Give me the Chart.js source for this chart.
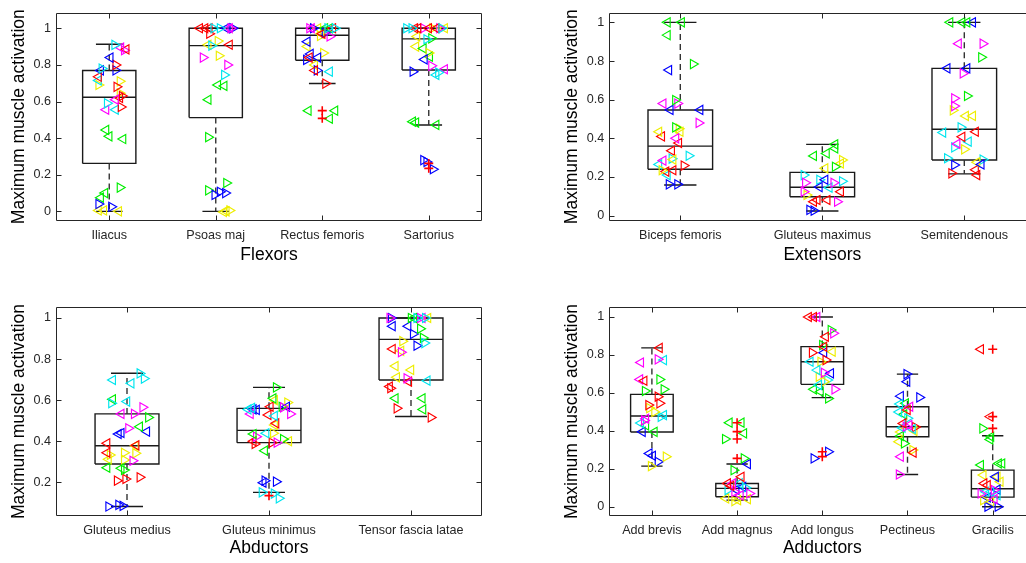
<!DOCTYPE html>
<html>
<head>
<meta charset="utf-8">
<script src="https://cdn.jsdelivr.net/npm/chart.js@4.4.1/dist/chart.umd.min.js"></script>
<style>
html,body{margin:0;padding:0;background:#fff;overflow:hidden;width:1026px;height:563px;}
canvas{position:absolute;}
</style>
</head>
<body>
<canvas id="p1"></canvas>
<canvas id="p2"></canvas>
<canvas id="p3"></canvas>
<canvas id="p4"></canvas>
<script>
// ---------------- DATA ----------------
const yAxisTitle = 'Maximum muscle activation';
const yTicksFull = [0, 0.2, 0.4, 0.6, 0.8, 1];
const yTickLabelsFull = ['0', '0.2', '0.4', '0.6', '0.8', '1'];
const yTicksAbd = [0.2, 0.4, 0.6, 0.8, 1];
const yTickLabelsAbd = ['0.2', '0.4', '0.6', '0.8', '1'];

// Flexors
const flexorCategories = ['Iliacus', 'Psoas maj', 'Rectus femoris', 'Sartorius'];
const flexorQ1 = [0.262, 0.512, 0.825, 0.772];
const flexorMedian = [0.623, 0.905, 0.962, 0.942];
const flexorQ3 = [0.769, 1.0, 1.0, 1.0];
const flexorLow = [0, 0, 0.698, 0.472];
const flexorHigh = [0.913, 1.0, 1.0, 1.0];
const flexorOutliers = [[], [], [0.55, 0.508], [0.262, 0.235]];
// points: [jitter, value, colour+direction]
const iliacusPts = [[0.05,0.909,'c>'],[0.11,0.894,'m<'],[0.16,0.885,'r<'],[0.14,0.88,'m>'],[0.01,0.84,'b<'],[0.06,0.80,'r>'],[-0.07,0.78,'c>'],[-0.08,0.77,'b<'],[0.06,0.77,'b>'],[-0.10,0.735,'r<'],[-0.10,0.715,'c<'],[-0.10,0.69,'y>'],[0.10,0.71,'y>'],[0.07,0.68,'r>'],[0.10,0.645,'y>'],[0.12,0.63,'r>'],[0.06,0.61,'m<'],[0.10,0.62,'r<'],[-0.02,0.59,'c>'],[0.11,0.57,'r>'],[-0.03,0.555,'m<'],[0.06,0.555,'c<'],[-0.03,0.445,'g<'],[0.00,0.41,'g<'],[0.13,0.395,'g<'],[0.10,0.13,'g>'],[-0.04,0.10,'g<'],[-0.08,0.075,'g<'],[-0.10,0.04,'b>'],[0.02,0.025,'b>'],[-0.10,0.005,'y<'],[-0.05,0.005,'y<'],[0.09,0.0,'y<']];
const psoasPts = [[-0.15,1,'r<'],[-0.10,1,'r<'],[-0.06,1,'r<'],[-0.02,1,'c>'],[0.04,1,'c>'],[0.10,1,'b<'],[0.13,1,'m<'],[0.16,1,'b>'],[0.14,1,'m>'],[-0.06,0.97,'r>'],[-0.07,0.91,'y<'],[-0.04,0.905,'c>'],[0.02,0.93,'y>'],[0.13,0.91,'r<'],[-0.12,0.84,'m>'],[0.03,0.85,'y>'],[0.11,0.80,'m>'],[0.08,0.745,'c>'],[0.02,0.69,'g<'],[0.08,0.685,'g<'],[-0.07,0.61,'g<'],[-0.07,0.405,'g>'],[0.10,0.155,'g>'],[-0.07,0.115,'g>'],[0.04,0.107,'b>'],[0.09,0.10,'b>'],[-0.01,0.09,'b>'],[0.10,0.0,'y<'],[0.13,0.005,'y>'],[0.075,-0.003,'y<']];
const rectusPts = [[-0.12,1,'m>'],[-0.085,1,'b>'],[-0.04,1,'y<'],[0.025,1,'g<'],[0.05,1,'c>'],[0.07,1,'g<'],[0.10,1,'r<'],[0.12,1,'c>'],[-0.10,1,'m<'],[-0.01,0.97,'y<'],[0.00,0.97,'r<'],[0.025,0.975,'b>'],[0.07,0.955,'m>'],[-0.02,0.958,'y>'],[-0.14,0.927,'b<'],[-0.14,0.90,'y<'],[-0.11,0.86,'b<'],[-0.12,0.84,'r<'],[0.01,0.865,'y>'],[-0.04,0.84,'b<'],[-0.07,0.80,'y<'],[-0.15,0.827,'b>'],[-0.07,0.77,'r<'],[-0.05,0.77,'b>'],[0.07,0.763,'c<'],[0.03,0.698,'r>'],[-0.13,0.55,'g<'],[0.12,0.55,'g<'],[0.07,0.506,'g<']];
const sartoriusPts = [[-0.21,1,'c>'],[-0.16,1,'c>'],[-0.13,1,'r<'],[-0.10,1,'r<'],[-0.05,1,'m>'],[0.00,1,'r<'],[0.035,1,'y>'],[0.07,1,'r<'],[0.10,1,'m>'],[0.12,1,'c>'],[0.15,1,'y<'],[-0.11,0.955,'y<'],[-0.02,0.94,'c>'],[0.025,0.945,'g>'],[-0.12,0.90,'y<'],[-0.05,0.89,'g<'],[0.00,0.865,'y>'],[0.01,0.845,'g<'],[-0.04,0.83,'b<'],[0.025,0.795,'m>'],[-0.15,0.763,'b>'],[0.15,0.776,'m<'],[0.09,0.758,'c>'],[0.07,0.745,'c<'],[-0.15,0.49,'g<'],[-0.12,0.485,'g<'],[0.07,0.472,'g<'],[-0.05,0.28,'b>'],[-0.02,0.27,'b>'],[0.04,0.23,'b>']];

// Extensors
const extensorCategories = ['Biceps femoris', 'Gluteus maximus', 'Semitendenous'];
const extensorQ1 = [0.24, 0.098, 0.288];
const extensorMedian = [0.36, 0.147, 0.447];
const extensorQ3 = [0.547, 0.224, 0.762];
const extensorLow = [0.159, 0.024, 0.216];
const extensorHigh = [1.0, 0.369, 1.0];
const extensorOutliers = [[], [], []];
const bicepsPts = [[-0.09,1,'g<'],[0.01,1,'g<'],[-0.09,0.934,'g<'],[0.09,0.784,'g>'],[-0.08,0.753,'b<'],[-0.035,0.598,'g>'],[-0.12,0.58,'m<'],[-0.02,0.58,'m>'],[-0.07,0.547,'b<'],[0.14,0.547,'b<'],[0.13,0.48,'m>'],[-0.15,0.434,'y<'],[-0.035,0.457,'g>'],[-0.01,0.45,'y>'],[0.0,0.434,'y<'],[-0.13,0.41,'r<'],[-0.03,0.40,'m<'],[-0.01,0.376,'r<'],[-0.06,0.336,'r<'],[0.06,0.31,'c>'],[-0.06,0.295,'c>'],[-0.12,0.285,'m<'],[-0.05,0.29,'y<'],[-0.15,0.265,'c<'],[0.025,0.259,'r>'],[-0.13,0.235,'y>'],[-0.10,0.228,'r<'],[-0.05,0.235,'r<'],[-0.09,0.21,'c<'],[-0.08,0.162,'b>'],[-0.02,0.162,'b>']];
const gluteusMaxPts = [[0.09,0.369,'g<'],[0.09,0.348,'g<'],[0.03,0.322,'g<'],[-0.06,0.309,'g<'],[0.14,0.288,'y>'],[0.02,0.245,'y<'],[0.09,0.253,'g>'],[0.13,0.27,'y<'],[-0.13,0.21,'c>'],[-0.02,0.186,'c>'],[0.14,0.178,'c>'],[0.02,0.186,'b<'],[0.08,0.17,'m>'],[-0.12,0.17,'m>'],[0.05,0.145,'c<'],[-0.02,0.148,'b<'],[-0.13,0.124,'m>'],[-0.11,0.107,'y>'],[0.13,0.124,'r<'],[-0.035,0.081,'r<'],[0.035,0.081,'r<'],[0.105,0.072,'m>'],[-0.06,0.072,'r<'],[-0.09,0.03,'b>'],[-0.06,0.026,'b>']];
const semitendPts = [[-0.10,1,'g<'],[-0.015,1,'g<'],[0.02,1,'g<'],[0.06,1,'b<'],[-0.04,0.89,'m<'],[0.13,0.89,'m>'],[0.12,0.819,'g>'],[-0.12,0.762,'b<'],[0.02,0.762,'b<'],[-0.01,0.736,'m>'],[0.02,0.619,'g>'],[-0.07,0.607,'m>'],[-0.07,0.567,'m>'],[-0.08,0.545,'y>'],[0.01,0.516,'y<'],[0.06,0.516,'y<'],[-0.025,0.457,'c>'],[-0.15,0.43,'c<'],[0.08,0.434,'r<'],[-0.015,0.408,'r<'],[0.03,0.383,'c<'],[-0.05,0.371,'m<'],[-0.07,0.353,'c>'],[0.00,0.343,'y>'],[-0.12,0.297,'c>'],[0.09,0.276,'y<'],[-0.07,0.262,'b>'],[0.13,0.29,'c>'],[0.12,0.265,'b<'],[-0.09,0.219,'r>'],[0.09,0.21,'r<'],[0.08,0.237,'r<']];

// Abductors
const abductorCategories = ['Gluteus medius', 'Gluteus minimus', 'Tensor fascia latae'];
const abductorQ1 = [0.289, 0.393, 0.698];
const abductorMedian = [0.378, 0.453, 0.896];
const abductorQ3 = [0.533, 0.56, 1.0];
const abductorLow = [0.082, 0.151, 0.52];
const abductorHigh = [0.731, 0.662, 1.0];
const abductorOutliers = [[], [0.135], []];
const gluteusMedPts = [[0.09,0.73,'c>'],[0.03,0.682,'c<'],[0.12,0.705,'c>'],[-0.10,0.698,'c<'],[-0.10,0.604,'g<'],[0.00,0.593,'c<'],[-0.11,0.585,'c>'],[0.11,0.565,'m>'],[-0.04,0.533,'m<'],[0.05,0.533,'m>'],[0.15,0.516,'g>'],[0.01,0.463,'m>'],[0.09,0.471,'g<'],[0.14,0.447,'b<'],[-0.06,0.435,'b<'],[-0.04,0.44,'b<'],[-0.14,0.39,'r<'],[-0.14,0.344,'r<'],[0.06,0.378,'y<'],[0.065,0.38,'r<'],[-0.12,0.333,'y>'],[-0.02,0.344,'y>'],[0.06,0.341,'y>'],[-0.13,0.312,'y<'],[-0.02,0.309,'y>'],[0.04,0.305,'m>'],[-0.14,0.271,'g<'],[-0.04,0.268,'g<'],[-0.02,0.26,'g>'],[-0.07,0.208,'r>'],[-0.01,0.216,'r>'],[0.09,0.224,'r>'],[-0.13,0.082,'b>'],[-0.06,0.09,'b>'],[-0.03,0.085,'b>']];
const gluteusMinPts = [[0.05,0.662,'g>'],[0.03,0.609,'g<'],[0.04,0.60,'y<'],[0.13,0.588,'y>'],[0.10,0.565,'m>'],[0.125,0.568,'b<'],[0.09,0.568,'g>'],[0.01,0.568,'r<'],[0.04,0.523,'c<'],[0.15,0.533,'m>'],[-0.005,0.528,'r<'],[-0.11,0.555,'b<'],[-0.12,0.562,'c<'],[-0.13,0.533,'m<'],[-0.146,0.555,'c<'],[-0.087,0.553,'b<'],[0.04,0.479,'y<'],[0.05,0.487,'r<'],[-0.02,0.439,'c<'],[-0.09,0.422,'m>'],[-0.11,0.435,'g<'],[0.03,0.439,'y>'],[0.055,0.393,'m>'],[0.02,0.393,'r>'],[-0.10,0.387,'r>'],[0.10,0.41,'g>'],[0.14,0.40,'y<'],[-0.03,0.354,'g<'],[-0.11,0.40,'r<'],[-0.03,0.208,'b>'],[0.05,0.203,'b>'],[-0.04,0.198,'b<'],[-0.05,0.151,'c>'],[0.07,0.122,'c>'],[0.035,0.145,'c>']];
const tensorPts = [[-0.15,1,'m>'],[-0.14,1,'b>'],[0.00,1,'g>'],[0.04,1,'c>'],[0.065,1,'m>'],[0.10,1,'c>'],[0.12,1,'y<'],[0.02,1,'g<'],[0.08,1,'m<'],[-0.13,0.96,'b<'],[-0.02,0.96,'b<'],[0.015,0.922,'b>'],[0.065,0.948,'g>'],[0.085,0.903,'g>'],[0.095,0.878,'c>'],[-0.06,0.887,'y>'],[0.04,0.865,'b>'],[-0.13,0.849,'r<'],[-0.07,0.833,'m>'],[-0.07,0.84,'y<'],[-0.11,0.766,'y<'],[0.00,0.747,'y<'],[-0.10,0.711,'y<'],[-0.03,0.706,'m>'],[-0.015,0.69,'r<'],[0.115,0.695,'c<'],[-0.15,0.666,'r<'],[-0.145,0.658,'r>'],[-0.11,0.609,'g<'],[0.08,0.609,'g<'],[-0.10,0.56,'r>'],[0.085,0.555,'g<'],[0.14,0.516,'r>']];

// Adductors
const adductorCategories = ['Add brevis', 'Add magnus', 'Add longus', 'Pectineus', 'Gracilis'];
const adductorQ1 = [0.394, 0.053, 0.645, 0.369, 0.051];
const adductorMedian = [0.478, 0.097, 0.764, 0.422, 0.095];
const adductorQ3 = [0.592, 0.123, 0.844, 0.527, 0.193];
const adductorLow = [0.214, 0.035, 0.575, 0.17, 0];
const adductorHigh = [0.837, 0.225, 1.0, 0.699, 0.374];
const adductorOutliers = [[], [0.443, 0.396, 0.357, 0.255], [0.29, 0.264], [], [0.83, 0.475, 0.413]];
const addBrevisPts = [[0.09,0.837,'r<'],[-0.13,0.76,'m<'],[0.07,0.777,'m>'],[0.14,0.773,'c<'],[-0.14,0.671,'m<'],[-0.09,0.664,'r<'],[0.09,0.671,'g>'],[-0.08,0.61,'g>'],[0.14,0.619,'g>'],[0.07,0.58,'r>'],[-0.04,0.536,'r>'],[0.09,0.545,'r>'],[-0.03,0.52,'y>'],[0.03,0.50,'y>'],[0.14,0.483,'c<'],[0.105,0.474,'c>'],[-0.07,0.464,'m<'],[-0.13,0.441,'c<'],[-0.07,0.429,'g<'],[-0.09,0.455,'m>'],[0.03,0.395,'g<'],[-0.11,0.395,'b<'],[-0.03,0.281,'b<'],[0.01,0.269,'b<'],[0.07,0.237,'b>'],[-0.01,0.214,'y>'],[0.165,0.264,'y>']];
const addMagnusPts = [[-0.09,0.443,'g<'],[0.05,0.443,'g<'],[0.08,0.387,'g<'],[-0.14,0.357,'g>'],[0.08,0.255,'g>'],[0.125,0.225,'b<'],[-0.04,0.193,'g>'],[0.05,0.158,'r<'],[-0.11,0.123,'r<'],[-0.05,0.123,'m<'],[0.03,0.123,'c<'],[0.07,0.105,'b<'],[-0.11,0.088,'c>'],[-0.03,0.079,'m>'],[0.145,0.07,'m>'],[-0.01,0.09,'b<'],[-0.07,0.11,'r<'],[0.10,0.10,'c>'],[-0.13,0.044,'y<'],[0.01,0.035,'y<'],[0.125,0.04,'y<'],[-0.03,0.03,'y>'],[0.04,0.06,'m<']];
const addLongusPts = [[-0.16,1,'r<'],[-0.10,1,'r<'],[-0.06,1,'m<'],[0.10,0.931,'g>'],[0.13,0.914,'m>'],[0.04,0.896,'r<'],[0.0,0.852,'g>'],[0.02,0.843,'r<'],[-0.12,0.812,'r>'],[0.12,0.817,'y<'],[0.02,0.812,'b<'],[-0.14,0.764,'c<'],[-0.02,0.764,'y>'],[0.04,0.773,'r>'],[-0.06,0.72,'c<'],[0.10,0.703,'b<'],[0.02,0.706,'m>'],[-0.04,0.685,'y>'],[0.06,0.668,'c>'],[0.02,0.659,'y>'],[-0.04,0.642,'c<'],[-0.10,0.619,'g<'],[0.145,0.619,'m>'],[-0.02,0.606,'g<'],[0.07,0.571,'g>'],[-0.10,0.255,'b>'],[0.07,0.29,'b>']];
const pectineusPts = [[-0.01,0.699,'b>'],[-0.005,0.659,'b<'],[-0.08,0.583,'b<'],[0.14,0.576,'b>'],[-0.09,0.541,'c<'],[-0.02,0.545,'g<'],[0.03,0.527,'m<'],[0.00,0.51,'r<'],[-0.10,0.499,'c<'],[-0.04,0.487,'g<'],[0.00,0.466,'c>'],[-0.05,0.439,'r<'],[-0.02,0.422,'m>'],[0.09,0.42,'r>'],[0.02,0.43,'m<'],[-0.06,0.417,'c<'],[0.06,0.41,'c<'],[-0.08,0.394,'y<'],[-0.08,0.373,'g<'],[-0.10,0.343,'y<'],[-0.04,0.334,'g>'],[0.06,0.299,'y>'],[0.07,0.285,'r<'],[-0.08,0.264,'m<'],[-0.10,0.17,'m>'],[0.08,0.40,'y<']];
const gracilisPts = [[-0.14,0.83,'r<'],[-0.03,0.475,'r<'],[-0.12,0.413,'g>'],[-0.02,0.369,'g<'],[-0.03,0.355,'g<'],[-0.14,0.22,'g<'],[0.07,0.228,'g<'],[0.11,0.228,'g<'],[-0.11,0.167,'y<'],[0.055,0.158,'y<'],[0.09,0.132,'y<'],[0.035,0.158,'b<'],[-0.10,0.123,'r<'],[-0.06,0.114,'r<'],[0.015,0.088,'m>'],[-0.02,0.079,'c<'],[0.055,0.09,'b<'],[-0.08,0.079,'c<'],[-0.14,0.07,'m>'],[0.055,0.061,'c<'],[-0.06,0.049,'b<'],[-0.11,0.035,'y>'],[-0.02,0.026,'y<'],[-0.06,0.0,'b>'],[0.06,0.0,'b>'],[0.02,0.04,'m<']];

// ---------------- STYLE / LAYOUT ----------------
const COLORS = {r:'#ff0000', g:'#00ee00', b:'#0000ff', c:'#00e5ee', m:'#ff00ff', y:'#eeee00'};
const FONT = "'Liberation Sans', Arial, Helvetica, sans-serif";
const TEXT = '#262626';

const panels = [
  {id:'p1', title:'Flexors', cats:flexorCategories, q1:flexorQ1, med:flexorMedian, q3:flexorQ3, lo:flexorLow, hi:flexorHigh, out:flexorOutliers,
   pts:[iliacusPts, psoasPts, rectusPts, sartoriusPts], yTicks:yTicksFull, yLabels:yTickLabelsFull, yMin:-0.051, yMax:1.085, boxW:0.5,
   canvas:{left:0, top:0, width:505, height:270}, area:{left:56, top:12.7, right:482, bottom:220.7}},
  {id:'p2', title:'Extensors', cats:extensorCategories, q1:extensorQ1, med:extensorMedian, q3:extensorQ3, lo:extensorLow, hi:extensorHigh, out:extensorOutliers,
   pts:[bicepsPts, gluteusMaxPts, semitendPts], yTicks:yTicksFull, yLabels:yTickLabelsFull, yMin:-0.026, yMax:1.05, boxW:0.455,
   canvas:{left:553, top:0, width:505, height:270}, area:{left:609.3, top:12.7, right:1035.3, bottom:220.7}},
  {id:'p3', title:'Abductors', cats:abductorCategories, q1:abductorQ1, med:abductorMedian, q3:abductorQ3, lo:abductorLow, hi:abductorHigh, out:abductorOutliers,
   pts:[gluteusMedPts, gluteusMinPts, tensorPts], yTicks:yTicksAbd, yLabels:yTickLabelsAbd, yMin:0.0374, yMax:1.052, boxW:0.45,
   canvas:{left:0, top:285, width:505, height:278}, area:{left:56, top:307.3, right:482, bottom:515.7}},
  {id:'p4', title:'Adductors', cats:adductorCategories, q1:adductorQ1, med:adductorMedian, q3:adductorQ3, lo:adductorLow, hi:adductorHigh, out:adductorOutliers,
   pts:[addBrevisPts, addMagnusPts, addLongusPts, pectineusPts, gracilisPts], yTicks:yTicksFull, yLabels:yTickLabelsFull, yMin:-0.047, yMax:1.051, boxW:0.5,
   canvas:{left:553, top:285, width:505, height:278}, area:{left:609.3, top:307.3, right:1035.3, bottom:515.7}}
];

const framePlugin = {
  id: 'frame',
  afterDatasetsDraw(chart) {
    const {ctx, chartArea: a, scales: {x, y}} = chart;
    const L = Math.round(a.left) + 0.5, R = Math.round(a.right) - 0.5;
    const T = Math.round(a.top) + 0.5, B = Math.round(a.bottom) - 0.5;
    ctx.save();
    ctx.strokeStyle = '#262626';
    ctx.lineWidth = 1;
    ctx.beginPath();
    ctx.rect(L, T, R - L, B - T);
    x.ticks.forEach(t => {
      const px = Math.round(x.getPixelForValue(t.value)) + 0.5;
      ctx.moveTo(px, B); ctx.lineTo(px, B - 5);
      ctx.moveTo(px, T); ctx.lineTo(px, T + 5);
    });
    y.ticks.forEach(t => {
      const py = Math.round(y.getPixelForValue(t.value)) + 0.5;
      ctx.moveTo(L, py); ctx.lineTo(L + 5, py);
      ctx.moveTo(R, py); ctx.lineTo(R - 5, py);
    });
    ctx.stroke();
    ctx.restore();
  }
};

function makePanel(p) {
  const cv = document.getElementById(p.id);
  cv.width = p.canvas.width; cv.height = p.canvas.height;
  cv.style.left = p.canvas.left + 'px'; cv.style.top = p.canvas.top + 'px';
  cv.style.width = p.canvas.width + 'px'; cv.style.height = p.canvas.height + 'px';

  const hb = p.boxW / 2, hc = p.boxW / 4;
  const box = [], med = [], whisk = [], cap = [], outl = [];
  p.cats.forEach((c, i) => {
    const x = i + 1;
    box.push({x:x-hb,y:p.q1[i]},{x:x+hb,y:p.q1[i]},{x:x+hb,y:p.q3[i]},{x:x-hb,y:p.q3[i]},{x:x-hb,y:p.q1[i]},{x:x,y:null});
    med.push({x:x-hb,y:p.med[i]},{x:x+hb,y:p.med[i]},{x:x,y:null});
    whisk.push({x:x,y:p.q3[i]},{x:x,y:p.hi[i]},{x:x,y:null},{x:x,y:p.q1[i]},{x:x,y:p.lo[i]},{x:x,y:null});
    cap.push({x:x-hc,y:p.hi[i]},{x:x+hc,y:p.hi[i]},{x:x,y:null},{x:x-hc,y:p.lo[i]},{x:x+hc,y:p.lo[i]},{x:x,y:null});
    p.out[i].forEach(v => outl.push({x:x, y:v}));
  });

  const lineDs = (data, opts) => Object.assign({data, showLine:true, pointRadius:0, fill:false, tension:0, spanGaps:false,
    borderColor:'#1a1a1a', borderWidth:1.4, order:3}, opts);

  const groups = {};
  p.pts.forEach((arr, i) => arr.forEach(([dx, v, code]) => {
    (groups[code] = groups[code] || []).push({x: i + 1 + dx, y: v});
  }));
  const triDs = Object.keys(groups).map(code => ({
    data: groups[code], showLine:false, pointStyle:'triangle',
    pointRotation: code[1] === '>' ? 90 : -90, pointRadius:5.3,
    pointBorderColor: COLORS[code[0]], pointBackgroundColor:'rgba(0,0,0,0)', pointBorderWidth:1.15,
    borderColor: COLORS[code[0]], backgroundColor:'rgba(0,0,0,0)', order:1
  }));

  const datasets = [
    lineDs(whisk, {borderDash:[6,4], borderColor:'#333333'}),
    lineDs(cap, {}),
    lineDs(box, {}),
    lineDs(med, {}),
    ...triDs,
    {data: outl, showLine:false, pointStyle:'cross', pointRadius:4.5, pointBorderColor:'#ff0000', pointBorderWidth:1.6,
     borderColor:'#ff0000', order:0}
  ];

  const yW = p.area.left - p.canvas.left;
  const xH = p.canvas.top + p.canvas.height - p.area.bottom;

  new Chart(cv, {
    type: 'scatter',
    data: {datasets},
    plugins: [framePlugin],
    options: {
      responsive:false, animation:false, events:[],
      layout: {padding: {top: p.area.top - p.canvas.top, right: p.canvas.left + p.canvas.width - p.area.right, left:0, bottom:0}},
      plugins: {legend:{display:false}, tooltip:{enabled:false}},
      scales: {
        x: {
          type:'linear', position:'bottom', min:0.5, max:p.cats.length + 0.5,
          afterBuildTicks: s => { s.ticks = p.cats.map((c, i) => ({value: i + 1})); },
          afterFit: s => { s.height = xH; },
          ticks: {callback: (v, i) => p.cats[i], color:TEXT, padding:7, autoSkip:false, maxRotation:0,
                  font:{family:FONT, size:12.6, lineHeight:1.2}},
          grid: {display:false, drawTicks:false},
          border: {display:false},
          title: {display:true, text:p.title, color:'#000', font:{family:FONT, size:17.5, lineHeight:1.2}, padding:{top:0, bottom:4.3}}
        },
        y: {
          type:'linear', position:'left', min:p.yMin, max:p.yMax,
          afterBuildTicks: s => { s.ticks = p.yTicks.map(v => ({value: v})); },
          afterFit: s => { s.width = yW; },
          ticks: {callback: (v, i) => p.yLabels[i], color:TEXT, padding:5,
                  font:{family:FONT, size:12.6, lineHeight:1.0}},
          grid: {display:false, drawTicks:false},
          border: {display:false},
          title: {display:true, text:yAxisTitle, color:'#000', font:{family:FONT, size:17.5, lineHeight:1.2}, padding:{top:8.3, bottom:0}}
        }
      }
    }
  });
}

panels.forEach(makePanel);
</script>
</body>
</html>
